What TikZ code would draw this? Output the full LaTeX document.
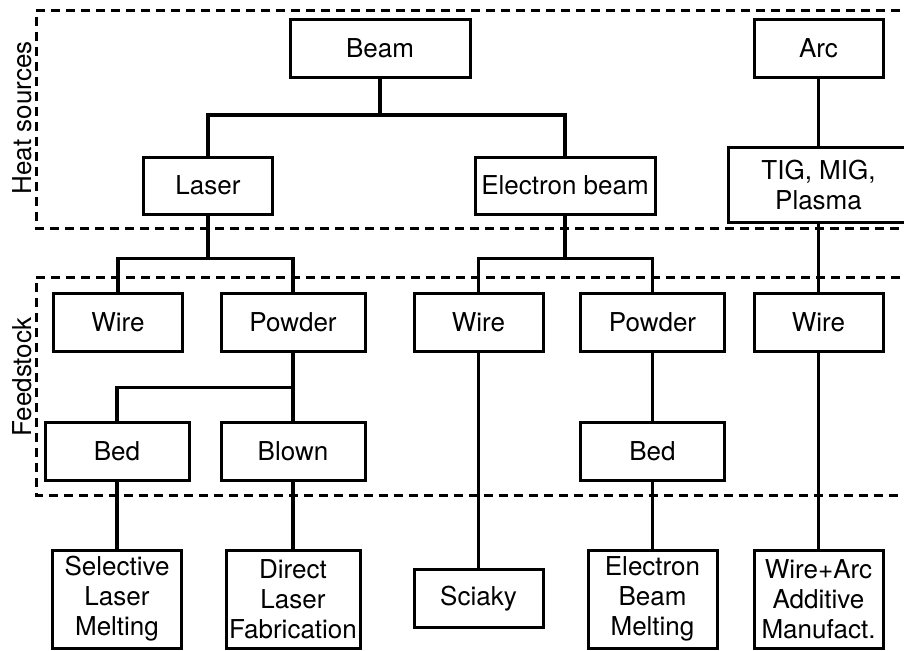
\documentclass[tikz,border=0pt]{standalone}
\usepackage{fontspec}
\setmainfont{TeX Gyre Heros}

\begin{document}
\begin{tikzpicture}[x=1pt, y=-1pt,
  box/.style={draw, line width=3pt, inner sep=0pt, align=center,
    minimum width=129pt, minimum height=58pt,
    font=\fontsize{26}{30}\selectfont},
  wide/.style={minimum width=144pt},
  wider/.style={minimum width=180pt},
  tall/.style={minimum height=98pt},
  link/.style={line width=3.2pt},
  group/.style={dash pattern=on 9pt off 6pt, line width=3pt},
  side/.style={rotate=90, font=\fontsize{26}{30}\selectfont}]
  \useasboundingbox (0,0) rectangle (904,650);
  \clip (0,0) rectangle (904,650);
  % dashed groups (open to the right)
  \draw[group] (915,11) -| (36,228) -- (915,228);
  \draw[group] (915,277) -| (36,495) -- (915,495);
  \node[side] (heat) at (22,118) {Heat sources};
  \node[side] (feed) at (22,377) {Feedstock};
  % heat sources
  \node[box,wider] (beam) at (380,48.5) {Beam};
  \node[box] (arc) at (818.5,48.5) {Arc};
  \node[box,minimum height=57pt] (laser) at (208,185.5) {Laser};
  \node[box,wider,minimum height=57pt] (ebeam) at (565,185.5) {Electron beam};
  \node[box,wider,minimum height=75pt] (tig) at (818.5,184.5) {TIG, MIG,\\Plasma};
  % feedstock
  \node[box] (wire1) at (118,322) {Wire};
  \node[box,wide] (powder1) at (293,322) {Powder};
  \node[box] (wire2) at (478.5,322) {Wire};
  \node[box,wide] (powder2) at (652.5,322) {Powder};
  \node[box] (wire3) at (818.5,322) {Wire};
  \node[box,wide] (bed1) at (117,451) {Bed};
  \node[box,wide] (blown) at (293,451) {Blown};
  \node[box,wide] (bed2) at (652.5,451) {Bed};
  % processes
  \node[box,tall] (slm) at (117,599) {Selective\\Laser\\Melting};
  \node[box,tall,minimum width=134pt] (dlf) at (293,599) {Direct\\Laser\\Fabrication};
  \node[box] (sciaky) at (478.5,598.5) {Sciaky};
  \node[box,tall] (ebm) at (652.5,599) {Electron\\Beam\\Melting};
  \node[box,tall] (waam) at (818.5,599) {Wire+Arc\\Additive\\Manufact.};
  % tree
  \draw[link] (beam.south) -- ++(0,36) -| (laser);
  \draw[link] (beam.south) -- ++(0,36) -| (ebeam);
  \draw[link] (arc) -- (tig);
  \draw[link] (laser.south) -- ++(0,43) -| (wire1);
  \draw[link] (laser.south) -- ++(0,43) -| (powder1);
  \draw[link] (ebeam.south) -- ++(0,43) -| (wire2);
  \draw[link] (ebeam.south) -- ++(0,43) -| (powder2);
  \draw[link] (tig) -- (wire3);
  \draw[link] (powder1.south) -- ++(0,35) -| (bed1);
  \draw[link] (powder1) -- (blown);
  \draw[link] (powder2) -- (bed2);
  \draw[link] (bed1) -- (slm);
  \draw[link] (blown) -- (dlf);
  \draw[link] (wire2) -- (sciaky);
  \draw[link] (bed2) -- (ebm);
  \draw[link] (wire3) -- (waam);
\end{tikzpicture}
\end{document}
